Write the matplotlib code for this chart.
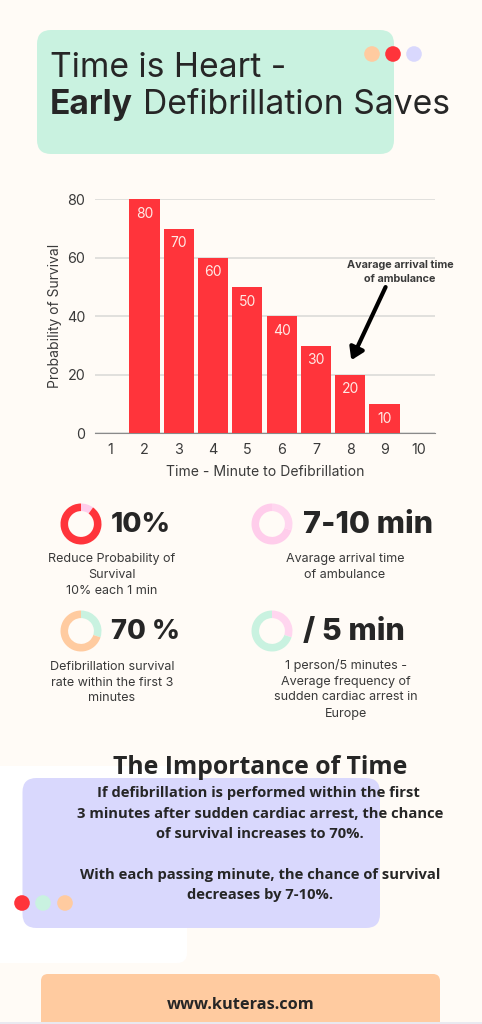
import matplotlib
matplotlib.use("Agg")
import matplotlib.pyplot as plt
from matplotlib.patches import Circle, FancyBboxPatch, Rectangle

W, H = 482, 1024
BG = "#FFFBF6"
RED = "#FF343B"
GREEN = "#C9F2E0"
PEACH = "#FFCBA0"
LILAC = "#D9D8FD"
PINK = "#FFCDEB"
PINK2 = "#FFD6EF"
INK = "#262626"
TEXT = "#3A3A3A"

minutes = [1, 2, 3, 4, 5, 6, 7, 8, 9, 10]
survival = [0, 80, 70, 60, 50, 40, 30, 20, 10, 0]
y_ticks = [0, 20, 40, 60, 80]

donut_a = [10, 90]
donut_b = [30, 70]
donut_c = [30, 70]
donut_d = [30, 70]

plt.rcParams["font.family"] = ["Inter", "DejaVu Sans"]

fig = plt.figure(figsize=(W / 100, H / 100), dpi=100, facecolor=BG)

# fondo en pixeles
bg = fig.add_axes([0, 0, 1, 1], zorder=0)
bg.set_xlim(0, W)
bg.set_ylim(H, 0)
bg.axis("off")


def box(x0, y0, x1, y1, color, r=12):
    bg.add_patch(FancyBboxPatch((x0 + r, y0 + r), x1 - x0 - 2 * r, y1 - y0 - 2 * r,
                                boxstyle=f"round,pad={r},rounding_size={r}",
                                fc=color, ec="none"))


def dot(x, y, color):
    bg.add_patch(Circle((x, y), 7.8, fc=color, ec="none", zorder=3))


box(-30, 766, 187, 963, "#FFFFFF", r=10)
box(37, 30, 394, 154, GREEN, r=14)
box(22.5, 778, 380, 928, LILAC, r=14)
box(41, 974, 440, 1040, PEACH, r=7)
bg.add_patch(Rectangle((0, 1022), W, 2, fc="#E9E9F0", ec="none", zorder=4))

for x, c in zip([372, 393, 414], [PEACH, RED, LILAC]):
    dot(x, 54, c)
for x, c in zip([22, 43, 65], [RED, GREEN, PEACH]):
    dot(x, 903, c)

# titulo
bg.text(50, 68, "Time is Heart -", fontsize=24.2, color=INK, va="center")
bg.text(50, 105, "Early", fontsize=24.2, color=INK, va="center", fontweight="bold")
bg.text(143, 105, "Defibrillation Saves", fontsize=24.2, color=INK, va="center")

# grafico de barras
ax = fig.add_axes([95 / W, 1 - 433.3 / H, 340 / W, 234 / H], zorder=1)
ax.patch.set_alpha(0)
bars = ax.bar(minutes, survival, width=0.88, color=RED, zorder=3)
for x, v in zip(minutes, survival):
    if v:
        ax.text(x, v - 2.6, str(v), ha="center", va="top", color="#FFE9E4", fontsize=10, zorder=4)
ax.set_xlim(0.56, 10.47)
ax.set_ylim(0, 80)
ax.set_xticks(minutes)
ax.set_yticks(y_ticks)
ax.grid(axis="y", color="#D9D9D6", lw=1.1, zorder=0)
ax.set_axisbelow(True)
for s in ["top", "right", "left"]:
    ax.spines[s].set_visible(False)
ax.spines["bottom"].set_color("#8A8A8A")
ax.tick_params(length=0, labelsize=10.3, labelcolor=TEXT, pad=7)
ax.set_xlabel("Time - Minute to Defibrillation", fontsize=10.1, color=TEXT, labelpad=6)
ax.set_ylabel("Probability of Survival", fontsize=10, color=TEXT, labelpad=3.5)
ax.annotate("", xy=(8.03, 25), xytext=(9.03, 50), zorder=5,
            arrowprops=dict(arrowstyle="-|>,head_length=0.7,head_width=0.45", color="black", lw=3,
                            shrinkA=0, shrinkB=0))
bg.text(400, 265.5, "Avarage arrival time", fontsize=7.8, fontweight="bold", color=TEXT, ha="center", va="center")
bg.text(400, 278.5, "of ambulance", fontsize=7.8, fontweight="bold", color=TEXT, ha="center", va="center")


def donut(cx, cy, values, colors):
    r = 20.5
    a = fig.add_axes([(cx - r) / W, 1 - (cy + r) / H, 2 * r / W, 2 * r / H], zorder=2)
    a.pie(values, colors=colors, startangle=90, counterclock=False, radius=1,
          wedgeprops=dict(width=0.37, linewidth=0))
    a.set_xlim(-1, 1)
    a.set_ylim(-1, 1)


donut(81, 524, donut_a, [PINK, RED])
donut(272, 524, donut_b, [PINK2, PINK])
donut(81, 631, donut_c, [GREEN, PEACH])
donut(272, 631, donut_d, [PINK2, GREEN])

# cifras
for x, y, s, fs in [(111, 525, "10%", 20), (303, 525, "7-10 min", 22), (111, 632, "70 %", 19.6), (303, 632, "/ 5 min", 22)]:
    bg.text(x, y, s, fontsize=fs, fontweight="heavy", color=INK, va="center")

# descripciones
notes = [
    (112, [(559, "Reduce Probability of"), (575, "Survival"), (591.5, "10% each 1 min")]),
    (345, [(559, "Avarage arrival time"), (575, "of ambulance")]),
    (112, [(666.5, "Defibrillation survival"), (682.5, "rate within the first 3"), (698, "minutes")]),
    (346, [(665, "1 person/5 minutes -"), (681.5, "Average frequency of"), (697.5, "sudden cardiac arrest in"), (713.5, "Europe")]),
]
for x, lines in notes:
    for y, s in lines:
        bg.text(x, y, s, fontsize=9.05, color=TEXT, ha="center", va="center")

# texto inferior
bg.text(260.5, 767.5, "The Importance of Time", fontsize=17.8, fontweight="bold", color=INK,
        ha="center", va="center", family=["Open Sans", "DejaVu Sans"])
body = [
    (258, 793.5, "If defibrillation is performed within the first"),
    (260, 813.5, "3 minutes after sudden cardiac arrest, the chance"),
    (260, 834.5, "of survival increases to 70%."),
    (260, 874.5, "With each passing minute, the chance of survival"),
    (260, 894.5, "decreases by 7-10%."),
]
for x, y, s in body:
    bg.text(x, y, s, fontsize=10.65, fontweight="bold", color=INK, ha="center", va="center",
            family=["Open Sans", "DejaVu Sans"])
bg.text(240.5, 1005, "www.kuteras.com", fontsize=11.8, fontweight="bold", color=INK, ha="center", va="center",
        family=["Open Sans", "DejaVu Sans"])

fig.savefig("out.png", dpi=100, facecolor=BG)
